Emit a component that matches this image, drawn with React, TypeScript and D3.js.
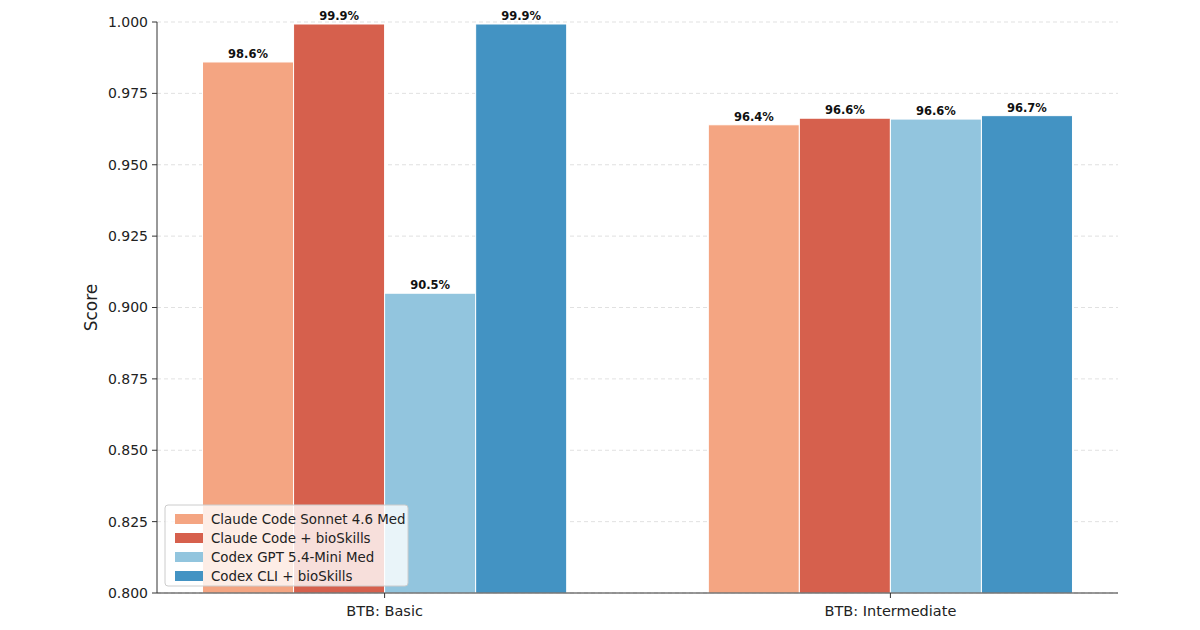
import React from 'react';
import * as d3 from 'd3';

const groups = ['BTB: Basic', 'BTB: Intermediate'];
const seriesNames = [
    'Claude Code Sonnet 4.6 Med',
    'Claude Code + bioSkills',
    'Codex GPT 5.4-Mini Med',
    'Codex CLI + bioSkills',
];
const seriesColors = ['#f4a582', '#d6604d', '#92c5de', '#4393c3'];
const basicScores = [0.986, 0.9993, 0.905, 0.9993];
const intermediateScores = [0.964, 0.9663, 0.966, 0.9672];
const basicLabels = ['98.6%', '99.9%', '90.5%', '99.9%'];
const intermediateLabels = ['96.4%', '96.6%', '96.6%', '96.7%'];
const yTicks = [0.8, 0.825, 0.85, 0.875, 0.9, 0.925, 0.95, 0.975, 1.0];

const scores = [basicScores, intermediateScores];
const labels = [basicLabels, intermediateLabels];

const W = 1200;
const H = 630;
const margin = { top: 22, right: 82, bottom: 37, left: 157 };
const font = 'DejaVu Sans, sans-serif';
const barWidth = 0.18;

export default function App() {
    const innerW = W - margin.left - margin.right;
    const innerH = H - margin.top - margin.bottom;

    const scale_x = d3.scaleLinear().domain([-0.45, 1.45]).range([0, innerW]);
    const scale_y = d3.scaleLinear().domain([0.8, 1.0]).range([innerH, 0]);
    const bw = scale_x(barWidth) - scale_x(0);

    // bar offset inside a group
    const offset = (i: number) => (i - 1.5) * barWidth;

    return (
        <svg width={W} height={H} style={{ position: 'absolute', left: 0, top: 0, background: '#fff' }} fontFamily={font}>
            <g transform={`translate(${margin.left},${margin.top})`}>
                {/* grid */}
                {yTicks.map((t) => (
                    <line key={`g${t}`} x1={0} x2={innerW} y1={scale_y(t)} y2={scale_y(t)}
                        stroke="#d9d9d9" strokeWidth={0.8} strokeDasharray="4,3" />
                ))}

                {/* bars */}
                {groups.map((g, gi) => seriesNames.map((s, si) => {
                    const cx = scale_x(gi + offset(si));
                    const v = scores[gi][si];
                    return (
                        <g key={`${g}-${s}`}>
                            <rect x={cx - bw / 2} y={scale_y(v)} width={bw} height={scale_y(0.8) - scale_y(v)}
                                fill={seriesColors[si]} stroke="#fff" strokeWidth={1} />
                            <text x={cx} y={scale_y(v) - 4} textAnchor="middle" fontSize={11.5} fontWeight="bold" fill="#111">
                                {labels[gi][si]}
                            </text>
                        </g>
                    );
                }))}

                {/* axes */}
                <line x1={0} x2={0} y1={0} y2={innerH} stroke="#333" strokeWidth={1} />
                <line x1={0} x2={innerW} y1={innerH} y2={innerH} stroke="#333" strokeWidth={1} />
                {yTicks.map((t) => (
                    <g key={`t${t}`} transform={`translate(0,${scale_y(t)})`}>
                        <line x1={-5} x2={0} stroke="#333" />
                        <text x={-9} dy="0.35em" textAnchor="end" fontSize={14} fill="#222">{t.toFixed(3)}</text>
                    </g>
                ))}
                {groups.map((g, gi) => (
                    <g key={g} transform={`translate(${scale_x(gi)},${innerH})`}>
                        <line y1={0} y2={5} stroke="#333" />
                        <text y={23} textAnchor="middle" fontSize={14.5} fill="#222">{g}</text>
                    </g>
                ))}
                <text transform={`translate(${-60},${innerH / 2}) rotate(-90)`} textAnchor="middle" fontSize={17} fill="#222">Score</text>

                {/* legend */}
                <g transform="translate(8,483)">
                    <rect x={0} y={0} width={243} height={81} rx={3} fill="#fff" fillOpacity={0.8} stroke="#ccc" />
                    {seriesNames.map((s, si) => (
                        <g key={s} transform={`translate(10,${14 + si * 19})`}>
                            <rect x={0} y={-5} width={28} height={10} fill={seriesColors[si]} />
                            <text x={36} dy="0.35em" fontSize={13.4} fill="#222">{s}</text>
                        </g>
                    ))}
                </g>
            </g>
        </svg>
    );
}
